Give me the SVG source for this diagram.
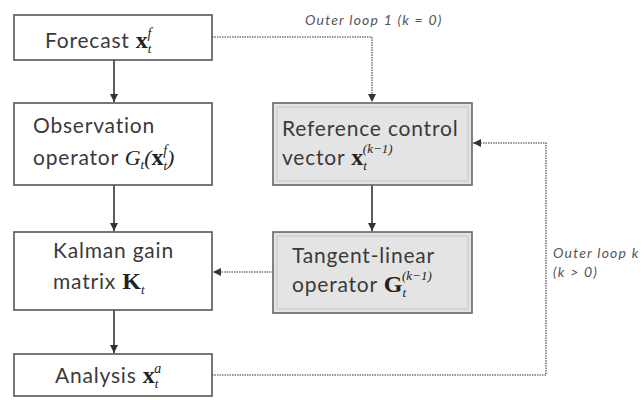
<svg xmlns="http://www.w3.org/2000/svg" width="644" height="400" viewBox="0 0 644 400">
<defs>
<marker id="ah" viewBox="0 0 10 10" refX="10" refY="5" markerWidth="8" markerHeight="8" markerUnits="userSpaceOnUse" orient="auto">
<path d="M0,0 L10,5 L0,10 z" fill="#333"/>
</marker>
<style>
.box{fill:#fff;stroke:#555;stroke-width:1.6}
.gbox{fill:#e4e4e4;stroke:#666;stroke-width:1.6}
.gin{fill:none;stroke:#c4c4c4;stroke-width:1}
.t{font-family:Lato,"Open Sans",sans-serif;font-size:21px;letter-spacing:0.8px;fill:#3a3a3a}
.m{font-family:"Liberation Serif",serif;font-weight:bold;font-size:24px;letter-spacing:0;fill:#222}
.mi{font-family:"Liberation Serif",serif;font-style:italic;letter-spacing:0;fill:#222}
.sub{font-family:"Liberation Serif",serif;font-style:italic;font-size:13px;letter-spacing:0;fill:#222}
.lbl{font-family:Lato,"Open Sans",sans-serif;font-style:italic;font-size:14px;letter-spacing:1.2px;fill:#555}
.solid{stroke:#333;stroke-width:1.6;fill:none}
.dot{stroke:#777;stroke-width:1.6;stroke-dasharray:1.5 1;fill:none}
</style>
</defs>
<g id="connectors">
<line class="solid" x1="114" y1="60" x2="114" y2="102" marker-end="url(#ah)"/>
<line class="solid" x1="114" y1="185" x2="114" y2="231" marker-end="url(#ah)"/>
<line class="solid" x1="114" y1="310" x2="114" y2="353" marker-end="url(#ah)"/>
<line class="solid" x1="372" y1="185" x2="372" y2="231" marker-end="url(#ah)"/>
<polyline class="dot" points="212,37 372,37 372,102" marker-end="url(#ah)"/>
<line class="dot" x1="273" y1="272" x2="213" y2="272" marker-end="url(#ah)"/>
<polyline class="dot" points="212,375 546,375 546,143 473,143" marker-end="url(#ah)"/>
<text class="lbl" x="305" y="25">Outer loop 1 (k = 0)</text>
<text class="lbl" x="553" y="258">Outer loop k</text>
<text class="lbl" x="553" y="277">(k &gt; 0)</text>
</g>
<g id="forecast">
<rect class="box" x="14" y="15" width="198" height="45"/>
<text class="t" x="45" y="48">Forecast <tspan class="m">x</tspan><tspan class="sub" dy="5">t</tspan><tspan class="mi" font-size="14" dy="-15" dx="-4">f</tspan></text>
</g>
<g id="observation">
<rect class="box" x="14" y="103" width="198" height="82"/>
<text class="t" x="33" y="133">Observation</text>
<text class="t" x="33" y="165">operator <tspan class="mi" font-size="22">G</tspan><tspan class="sub" dy="4">t</tspan><tspan class="mi" font-size="22" dy="-4">(</tspan><tspan class="m">x</tspan><tspan class="sub" dy="5">t</tspan><tspan class="mi" font-size="14" dy="-15" dx="-4">f</tspan><tspan class="mi" font-size="22" dy="10">)</tspan></text>
</g>
<g id="reference">
<rect class="gbox" x="273" y="103" width="199" height="82"/>
<rect class="gin" x="277" y="107" width="191" height="74"/>
<text class="t" x="282" y="136">Reference control</text>
<text class="t" x="282" y="165">vector <tspan class="m">x</tspan><tspan class="sub" dy="5">t</tspan><tspan class="mi" font-size="13" dy="-17" dx="-4">(k−1)</tspan></text>
</g>
<g id="tangent">
<rect class="gbox" x="273" y="232" width="199" height="81"/>
<rect class="gin" x="277" y="236" width="191" height="73"/>
<text class="t" x="292" y="263">Tangent-linear</text>
<text class="t" x="292" y="292">operator <tspan class="m">G</tspan><tspan class="sub" dy="5">t</tspan><tspan class="mi" font-size="13" dy="-17" dx="-4">(k−1)</tspan></text>
</g>
<g id="kalman">
<rect class="box" x="14" y="232" width="198" height="78"/>
<text class="t" x="53" y="258">Kalman gain</text>
<text class="t" x="53" y="289">matrix <tspan class="m">K</tspan><tspan class="sub" dy="5">t</tspan></text>
</g>
<g id="analysis">
<rect class="box" x="14" y="354" width="198" height="42"/>
<text class="t" x="55" y="383">Analysis <tspan class="m">x</tspan><tspan class="sub" dy="5">t</tspan><tspan class="mi" font-size="14" dy="-15" dx="-4">a</tspan></text>
</g>
</svg>
